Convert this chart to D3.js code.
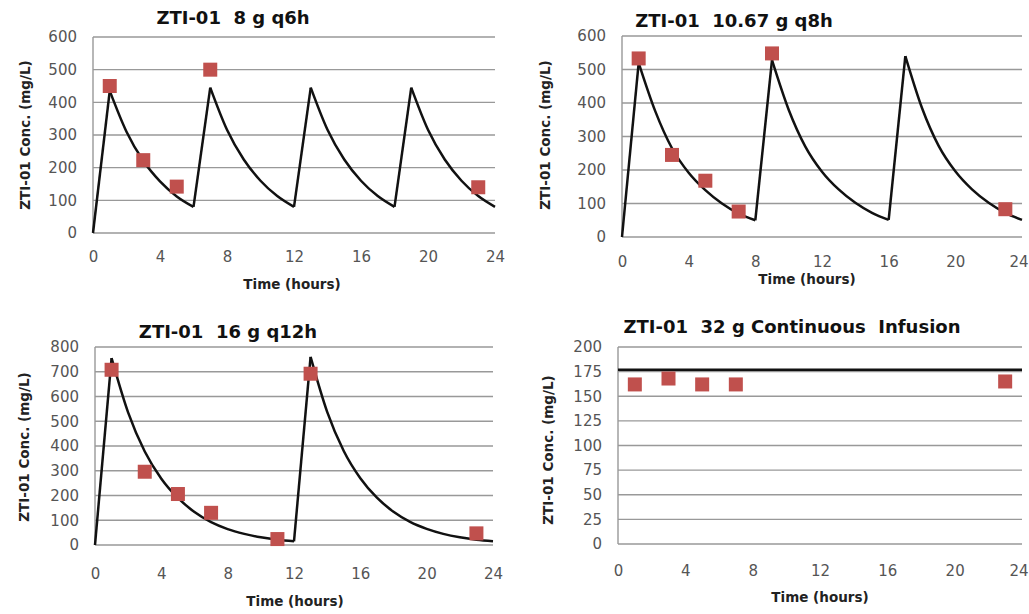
<!DOCTYPE html>
<html>
<head>
<meta charset="utf-8">
<script src="https://cdn.jsdelivr.net/npm/d3@7"></script>
<style>
	body { margin: 0; background: #fff; }
	text { font-family: "DejaVu Sans", sans-serif; white-space: pre; }
	.tick-label { fill: #555; font-size: 15px; }
	.title { font-weight: bold; font-size: 18px; fill: #111; }
	.axis-title { font-weight: bold; font-size: 13.5px; fill: #222; }
</style>
</head>
<body>
<script>

// shared x ticks (hours)
var xTicks = [0, 4, 8, 12, 16, 20, 24];

// 8 g q6h
var q6hTitle = 'ZTI-01  8 g q6h';
var q6hYTicks = [0, 100, 200, 300, 400, 500, 600];
var q6hTime = [0, 1, 2, 3, 4, 5, 6, 7, 8, 9, 10, 11, 12, 13, 14, 15, 16, 17, 18, 19, 20, 21, 22, 23, 24];
var q6hModel = [0, 435, 310, 221, 158, 112, 80, 445, 316, 225, 160, 113, 80, 445, 316, 225, 160, 113, 80, 445, 316, 225, 160, 113, 80];
var q6hObsTime = [1, 3, 5, 7, 23];
var q6hObs = [450, 223, 142, 500, 140];

// 10.67 g q8h
var q8hTitle = 'ZTI-01  10.67 g q8h';
var q8hYTicks = [0, 100, 200, 300, 400, 500, 600];
var q8hTime = [0, 1, 2, 3, 4, 5, 6, 7, 8, 9, 10, 11, 12, 13, 14, 15, 16, 17, 18, 19, 20, 21, 22, 23, 24];
var q8hModel = [0, 520, 375, 265, 192, 140, 100, 70, 50, 528, 380, 270, 195, 142, 102, 72, 51, 540, 385, 272, 196, 142, 102, 72, 51];
var q8hObsTime = [1, 3, 5, 7, 9, 23];
var q8hObs = [533, 245, 168, 76, 548, 83];

// 16 g q12h
var q12hTitle = 'ZTI-01  16 g q12h';
var q12hYTicks = [0, 100, 200, 300, 400, 500, 600, 700, 800];
var q12hTime = [0, 1, 2, 3, 4, 5, 6, 7, 8, 9, 10, 11, 12, 13, 14, 15, 16, 17, 18, 19, 20, 21, 22, 23, 24];
var q12hModel = [0, 755, 535, 378, 268, 190, 133, 92, 64, 45, 31, 21, 15, 760, 538, 380, 270, 191, 134, 93, 65, 45, 31, 21, 15];
var q12hObsTime = [1, 3, 5, 7, 11, 13, 23];
var q12hObs = [708, 296, 206, 130, 24, 692, 47];

// 32 g continuous infusion
var ciTitle = 'ZTI-01  32 g Continuous  Infusion';
var ciYTicks = [0, 25, 50, 75, 100, 125, 150, 175, 200];
var ciTime = [0, 24];
var ciModel = [177, 177];
var ciObsTime = [1, 3, 5, 7, 23];
var ciObs = [162, 168, 162, 162, 165];

var svg = d3.select('body').append('svg')
	.attr('width', 1029)
	.attr('height', 614);

// panel layout (pixels)
drawPanel({
	title: q6hTitle, yTicks: q6hYTicks, time: q6hTime, model: q6hModel, obsTime: q6hObsTime, obs: q6hObs,
	left: 93, right: 495, top: 37, bottom: 233,
	titleX: 233, titleY: 24, yLabX: 25, yLabY: 135, xLabX: 292, xLabY: 289, xPad: 18
});
drawPanel({
	title: q8hTitle, yTicks: q8hYTicks, time: q8hTime, model: q8hModel, obsTime: q8hObsTime, obs: q8hObs,
	left: 622, right: 1022, top: 36, bottom: 237,
	titleX: 734, titleY: 27, yLabX: 545, yLabY: 135, xLabX: 807, xLabY: 284, xPad: 19
});
drawPanel({
	title: q12hTitle, yTicks: q12hYTicks, time: q12hTime, model: q12hModel, obsTime: q12hObsTime, obs: q12hObs,
	left: 95, right: 493, top: 347, bottom: 545,
	titleX: 228, titleY: 338, yLabX: 24, yLabY: 447, xLabX: 295, xLabY: 606, xPad: 23
});
drawPanel({
	title: ciTitle, yTicks: ciYTicks, time: ciTime, model: ciModel, obsTime: ciObsTime, obs: ciObs,
	left: 618, right: 1022, top: 347, bottom: 544,
	titleX: 792, titleY: 333, yLabX: 548, yLabY: 450, xLabX: 820, xLabY: 602, xPad: 21
});

function drawPanel(p) {
	var g = svg.append('g');

	var x = d3.scaleLinear().domain([0, 24]).range([p.left, p.right]);
	var y = d3.scaleLinear()
		.domain([0, p.yTicks[p.yTicks.length - 1]])
		.range([p.bottom, p.top]);

	// gridlines
	g.selectAll('.grid').data(p.yTicks).enter()
		.append('line')
		.attr('x1', p.left)
		.attr('x2', p.right)
		.attr('y1', function(d) { return y(d); })
		.attr('y2', function(d) { return y(d); })
		.attr('stroke', '#999')
		.attr('stroke-width', 1.4);

	// left axis line
	g.append('line')
		.attr('x1', p.left).attr('x2', p.left)
		.attr('y1', p.top).attr('y2', p.bottom)
		.attr('stroke', '#999')
		.attr('stroke-width', 1.4);

	// axes, labels only
	var yAxis = g.append('g')
		.attr('transform', 'translate(' + p.left + ',0)')
		.call(d3.axisLeft(y).tickValues(p.yTicks).tickSize(0).tickPadding(16));
	var xAxis = g.append('g')
		.attr('transform', 'translate(0,' + p.bottom + ')')
		.call(d3.axisBottom(x).tickValues(xTicks).tickSize(0).tickPadding(p.xPad));
	[yAxis, xAxis].forEach(function(a) {
		a.select('.domain').remove();
		a.selectAll('text')
			.attr('class', 'tick-label')
			.attr('font-family', null)
			.attr('font-size', null)
			.attr('fill', null);
	});
	// keep the last hour label inside the page on the right-hand panels
	if (p.right > 1000) {
		xAxis.selectAll('text').filter(function(d) { return d === 24; })
			.attr('text-anchor', 'end')
			.attr('x', 1028 - p.right);
	}

	// model curve: straight infusion rises, smooth decays
	var pts = p.time.map(function(t, i) { return [t, p.model[i]]; });
	var runs = [];
	var cur = [pts[0]];
	for (var i = 1; i < pts.length; i++) {
		var up = pts[i][1] > pts[i - 1][1];
		if (cur.length > 1 && up !== cur.up) {
			runs.push(cur);
			cur = [pts[i - 1]];
		}
		cur.up = up;
		cur.push(pts[i]);
	}
	runs.push(cur);

	runs.forEach(function(r) {
		var line = d3.line()
			.x(function(d) { return x(d[0]); })
			.y(function(d) { return y(d[1]); })
			.curve(r.up ? d3.curveLinear : d3.curveMonotoneX);
		g.append('path')
			.attr('d', line(r))
			.attr('fill', 'none')
			.attr('stroke', '#111')
			.attr('stroke-width', 2.5)
			.attr('stroke-linejoin', 'miter');
	});

	// observed concentrations
	var s = 14;
	g.selectAll('.obs').data(p.obsTime).enter()
		.append('rect')
		.attr('x', function(d) { return x(d) - s / 2; })
		.attr('y', function(d, i) { return y(p.obs[i]) - s / 2; })
		.attr('width', s)
		.attr('height', s)
		.attr('fill', '#c0504d');

	// titles
	g.append('text')
		.attr('class', 'title')
		.attr('x', p.titleX)
		.attr('y', p.titleY)
		.attr('text-anchor', 'middle')
		.text(p.title);

	g.append('text')
		.attr('class', 'axis-title')
		.attr('x', p.xLabX)
		.attr('y', p.xLabY)
		.attr('text-anchor', 'middle')
		.text('Time (hours)');

	g.append('text')
		.attr('class', 'axis-title')
		.attr('transform', 'translate(' + p.yLabX + ',' + p.yLabY + ') rotate(-90)')
		.attr('dy', '0.35em')
		.attr('text-anchor', 'middle')
		.text('ZTI-01 Conc. (mg/L)');
}
</script>
</body>
</html>
